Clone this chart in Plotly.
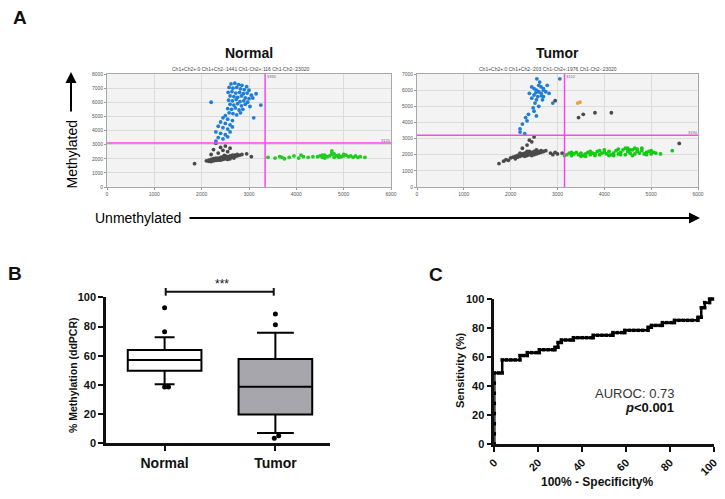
import plotly.graph_objects as go

# ---------------- Panel A data (droplet clusters) ----------------
normal_blue_x = [2620,2700,2780,2850,2950,2580,2660,2740,2820,2900,3000,
                 2560,2640,2720,2800,2880,2960,3050,
                 2600,2680,2760,2840,2920,3000,3080,
                 2570,2650,2730,2810,2890,2970,
                 2600,2680,2760,2840,2920,3020,
                 2550,2630,2710,2790,2870,
                 2580,2660,2740,2820,2500,
                 2450,2550,2650,2400,2500,2600,2350,2450,2550,2650,2300,2400,2500,2350,2450,2300,2550,2600,
                 3250,3150,2200,3100]
normal_blue_y = [7300,7350,7250,7200,7100,7050,7000,7050,6950,6900,6850,
                 6700,6750,6650,6700,6600,6650,6500,
                 6450,6400,6350,6450,6300,6250,6300,
                 6150,6100,6200,6050,6100,6000,
                 5850,5800,5900,5750,5850,5700,
                 5550,5500,5600,5450,5500,
                 5250,5200,5100,5250,5050,
                 4900,4800,4700,4600,4500,4400,4300,4200,4100,4250,3900,3800,3700,3500,3400,3250,3550,3900,
                 5800,6600,6000,4900]
normal_gray_x = [2100,2150,2200,2200,2250,2250,2300,2300,2350,2350,2400,2400,2400,2450,2450,2450,2500,2500,2500,2550,2550,2600,2600,2600,2650,2650,2700,2700,2750,2750,2800,2850,2550,2350,2150,2680,2300,2480,
                 2350,2450,2250,2550,2400,2600,1850,2950,3050,2200,2500,2300]
normal_gray_y = [1850,1900,1950,1800,2000,1850,1950,2050,1900,2050,2000,2100,1900,2050,1950,2150,2000,2100,2200,2050,2150,2100,2200,2000,2150,2250,2150,2250,2200,2300,2250,2300,1950,1980,1820,2050,1880,2230,
                 2400,2600,2650,2500,2800,2750,1650,2350,2150,2300,2900,3100]
normal_green_x = [4450,4500,4550,4600,4650,4700,4750,4800,4850,4900,4950,5000,5050,5100,5150,5200,5250,5350,4800,4600,4900,5000,4550,4750,5300,
                  3400,3550,3650,3750,3850,3950,4050,4150,4250,4350,3700,4100,5450,4750]
normal_green_y = [2150,2200,2100,2250,2150,2200,2300,2100,2200,2250,2150,2200,2250,2150,2200,2100,2200,2150,2350,2050,2100,2300,2250,2400,2100,
                  2100,2050,2150,2000,2100,2200,2050,2150,2100,2150,2100,2250,2100,2550]

tumor_blue_x = [2600,2550,2650,2500,2700,2600,2450,2550,2650,2750,2500,2580,2700,2620,2450,2520,2680,2560,2400,2780,2600,2480,2700,2540,2660,2820,
                2500,2380,2320,2250,2200,2300,2550,2350,2200,3050,2900]
tumor_blue_y = [5900,6000,5800,5700,6100,6300,5500,5400,6200,5900,6100,5600,5600,6500,6200,5200,5400,6700,5800,6300,5000,4900,6000,5850,5650,5800,
                4700,4500,4300,3900,3600,3300,4400,4100,3400,6700,5200]
tumor_gray_x = [2000,2050,2100,2100,2150,2200,2200,2250,2250,2300,2300,2300,2350,2350,2400,2400,2400,2450,2450,2450,2500,2500,2500,2550,2550,2600,2600,2650,2650,2700,2750,2200,2350,2150,2550,
                1750,1850,1900,1950,2850,2950,3000,3100,2900,2250,2350,2450,2500,2400,3550,3800,4150,3450,2950,5600]
tumor_gray_y = [1800,1850,1900,1750,1950,1900,2000,1950,2050,2000,2100,1900,2050,1950,2000,2100,2200,2050,2150,1950,2100,2200,2000,2150,2050,2100,2200,2150,2250,2200,2250,2100,2200,1850,2300,
                1450,1600,1700,1650,2100,2150,2050,2100,2000,2400,2600,2800,3100,2900,4500,4600,4600,4300,5350,2700]
tumor_green_x = [3200,3250,3300,3350,3400,3450,3500,3550,3600,3650,3700,3750,3800,3850,3900,3950,4000,4050,4100,4150,4200,4250,4300,4350,4400,4450,4500,4550,4600,4650,4700,4750,4800,4850,4900,4950,5000,5050,5100,5200,
                 3300,3500,3700,3900,4100,4300,4500,4700,4900,4450,4600,4200,3800,4000,4800,5000,3600,4350,4650,4550,5450,3150]
tumor_green_y = [2000,2100,1950,2050,2150,2000,2100,1950,2050,2150,2000,2100,2050,2200,2000,2100,2150,2050,2200,2000,2100,2250,2050,2150,2300,2000,2200,2100,2300,2050,2200,2100,2250,2050,2150,2200,2050,2150,2100,2050,
                 2150,1900,2200,2250,1950,2350,2400,2350,2000,2400,1950,1950,1950,2300,2400,2250,1900,2000,2400,2300,2250,1950]
tumor_orange_x = [3430, 3480]
tumor_orange_y = [5200, 5250]

normal_thresh_x, normal_thresh_y = 3340, 3120
tumor_thresh_x, tumor_thresh_y = 3150, 3200
normal_counts = "Ch1+Ch2+:0 Ch1+Ch2-:1441 Ch1-Ch2+:116 Ch1-Ch2-:23020"
tumor_counts = "Ch1+Ch2+:0 Ch1+Ch2-:203 Ch1-Ch2+:1976 Ch1-Ch2-:23020"

# ---------------- Panel B data (box summary) ----------------
groups = ["Normal", "Tumor"]
q1 = [49.7, 19.8]
median = [57.0, 38.8]
q3 = [63.9, 57.7]
low_whisker = [40.4, 7.0]
high_whisker = [72.6, 75.8]
normal_out_x = [0, 0, 0, 0.035]
normal_out_y = [92.9, 76.4, 38.5, 38.5]
tumor_out_x = [1, 1, 1.03, 0.99]
tumor_out_y = [88.6, 81.2, 5.2, 3.4]

# ---------------- Panel C data (ROC curve) ----------------
roc_fpr = [0,0,0,0,0,0,0,0, 2,3.6,3.6, 5.5,7.5,9.5,11.7,11.7, 13.3,15,15, 17,19,20.5,20.5, 22.5,24.5,26.5,27.6,27.6, 29,29, 30.5,30.5,
           32.5,34.5,36,36, 38,40,42,44,45,45, 47,49,51,53,54,54, 56,58,59.4,59.4, 61.5,63.5,65.5,67.5,70,70, 71.5,71.5,
           73.5,75.5,76.5,76.5, 78.5,80.5,82,82, 84,86,88,90,92.7,92.7, 94.2,94.2, 95.8,95.8, 98,98, 99.3]
roc_tpr = [0,7,14,21,28,35,42,49, 49,49,58, 58,58,58,58,61, 61,61,63, 63,63,63,65, 65,65,65,65,66.7, 66.7,70, 70,71.7,
           71.7,71.7,71.7,73.3, 73.3,73.3,73.3,73.3,73.3,75, 75,75,75,75,75,76.8, 76.8,76.8,76.8,78.4, 78.4,78.4,78.4,78.4,78.4,80.5, 80.5,81.8,
           81.8,81.8,81.8,83.7, 83.7,83.7,83.7,85.3, 85.3,85.3,85.3,85.3,85.3,87.4, 87.4,94, 94,97.5, 97.5,100, 100]

W, H = 725, 499
def px(x): return x / W
def py(y): return 1 - y / H

TXT = "#111111"
FONT = "Liberation Sans, Arial, sans-serif"

fig = go.Figure()

# Panel A traces
def add_cluster(xs, ys, color, ax, size=3.8):
    fig.add_trace(go.Scatter(x=xs, y=ys, mode="markers", xaxis="x" + ax, yaxis="y" + ax,
                             marker=dict(color=color, size=size, line=dict(width=0)),
                             hoverinfo="skip", showlegend=False))

add_cluster(normal_gray_x, normal_gray_y, "#4a4a4a", "")
add_cluster(normal_blue_x, normal_blue_y, "#1f7fd6", "")
add_cluster(normal_green_x, normal_green_y, "#22cc22", "")
add_cluster(tumor_gray_x, tumor_gray_y, "#4a4a4a", "2")
add_cluster(tumor_blue_x, tumor_blue_y, "#1f7fd6", "2")
add_cluster(tumor_green_x, tumor_green_y, "#11cc11", "2")
add_cluster(tumor_orange_x, tumor_orange_y, "#f0a040", "2")

# Panel B
fills = ["white", "#a7a6ad"]
wwidth = [0.27, 0.5]
for i, g in enumerate(groups):
    fig.add_trace(go.Box(x=[i], q1=[q1[i]], median=[median[i]], q3=[q3[i]],
                         lowerfence=[low_whisker[i]], upperfence=[high_whisker[i]],
                         width=0.665, whiskerwidth=wwidth[i], fillcolor=fills[i],
                         line=dict(color="black", width=2), boxpoints=False,
                         xaxis="x3", yaxis="y3", showlegend=False, hoverinfo="skip"))
fig.add_trace(go.Scatter(x=normal_out_x + tumor_out_x, y=normal_out_y + tumor_out_y, mode="markers",
                         marker=dict(color="black", size=5), xaxis="x3", yaxis="y3",
                         showlegend=False, cliponaxis=False, hoverinfo="skip"))

# Panel C
fig.add_trace(go.Scatter(x=roc_fpr, y=roc_tpr, mode="lines+markers",
                         line=dict(color="black", width=2.5),
                         marker=dict(symbol="square", size=3.5, color="black"),
                         xaxis="x4", yaxis="y4", showlegend=False, cliponaxis=False, hoverinfo="skip"))

small = dict(size=5, color="#555555", family=FONT)
a_common = dict(showline=True, mirror=True, linecolor="#a8a8a8", linewidth=1, automargin=False,
                showgrid=True, gridcolor="#dcdcdc", gridwidth=1, zeroline=False,
                tickfont=small, ticks="outside", ticklen=2, tickcolor="#999999")
bold11 = dict(size=11, color=TXT, family=FONT, weight="bold")
c_common = dict(showline=True, linecolor=TXT, linewidth=2.5, showgrid=False, zeroline=False, automargin=False,
                ticks="outside", ticklen=5, tickwidth=2, tickcolor=TXT, tickfont=bold11)

fig.update_layout(
    template="none",
    width=W, height=H, margin=dict(l=0, r=0, t=0, b=0, pad=0, autoexpand=False),
    paper_bgcolor="white", plot_bgcolor="white", showlegend=False,
    font=dict(family=FONT, color=TXT),
    xaxis=dict(domain=[px(107), px(391)], range=[0, 6000], tickvals=list(range(0, 6001, 1000)), anchor="y", **a_common),
    yaxis=dict(domain=[py(187), py(74)], range=[0, 8000], tickvals=list(range(0, 8001, 1000)), anchor="x", **a_common),
    xaxis2=dict(domain=[px(417), px(698)], range=[0, 6000], tickvals=list(range(0, 6001, 1000)), anchor="y2", **a_common),
    yaxis2=dict(domain=[py(187), py(74)], range=[0, 7000], tickvals=list(range(0, 7001, 1000)), anchor="x2", **a_common),
    xaxis3=dict(domain=[px(106), px(330)], range=[-0.529, 1.493], tickvals=[0, 1], ticktext=groups, anchor="y3",
                **{**c_common, "tickfont": dict(size=14, color=TXT, family=FONT, weight="bold")}),
    yaxis3=dict(domain=[py(443.3), py(297.3)], range=[0, 100], tickvals=list(range(0, 101, 20)), anchor="x3", **c_common),
    xaxis4=dict(domain=[px(494.3), px(714)], range=[0, 100], tickvals=list(range(0, 101, 20)), tickangle=-45, anchor="y4", **c_common),
    yaxis4=dict(domain=[py(444), py(299)], range=[0, 100], tickvals=list(range(0, 101, 20)), anchor="x4", **c_common),
)

shapes = []
for ax in ["", "2"]:
    shapes.append(dict(type="rect", xref="x" + ax + " domain", yref="y" + ax + " domain", x0=0, x1=1, y0=0, y1=1,
                       fillcolor="#f3f3f3", line=dict(width=0), layer="below"))
# magenta thresholds
shapes += [
    dict(type="line", xref="x", yref="y domain", x0=normal_thresh_x, x1=normal_thresh_x, y0=0, y1=1, line=dict(color="#ff44ee", width=1.5)),
    dict(type="line", xref="x domain", yref="y", x0=0, x1=1, y0=normal_thresh_y, y1=normal_thresh_y, line=dict(color="#ff44ee", width=1.5)),
    dict(type="line", xref="x2", yref="y2 domain", x0=tumor_thresh_x, x1=tumor_thresh_x, y0=0, y1=1, line=dict(color="#ff44ee", width=1.5)),
    dict(type="line", xref="x2 domain", yref="y2", x0=0, x1=1, y0=tumor_thresh_y, y1=tumor_thresh_y, line=dict(color="#ff44ee", width=1.5)),
]
# significance bracket
shapes += [
    dict(type="line", xref="x3", yref="paper", x0=0.01, x1=0.985, y0=py(291.7), y1=py(291.7), line=dict(color=TXT, width=2)),
    dict(type="line", xref="x3", yref="paper", x0=0.01, x1=0.01, y0=py(288), y1=py(295.7), line=dict(color=TXT, width=2)),
    dict(type="line", xref="x3", yref="paper", x0=0.985, x1=0.985, y0=py(288), y1=py(295.7), line=dict(color=TXT, width=2)),
]
fig.update_layout(shapes=shapes)

ann = []
def txt(x, y, text, size, bold=False, **kw):
    f = dict(size=size, color=kw.pop("color", TXT), family=FONT)
    if bold:
        f["weight"] = "bold"
    d = dict(x=px(x), y=py(y), xref="paper", yref="paper", text=text, showarrow=False, font=f,
             xanchor="center", yanchor="middle")
    d.update(kw)
    ann.append(d)

txt(20, 17, "A", 19, True)
txt(14.5, 273, "B", 19, True)
txt(435.5, 274, "C", 19, True)
txt(249, 53, "Normal", 14, True)
txt(557, 53, "Tumor", 14, True)
txt(240, 69, normal_counts, 5, color="#444444")
txt(548, 69, tumor_counts, 5, color="#444444")
txt(72, 154.5, "Methylated", 14, textangle=-90, color="black")
txt(137.5, 218, "Unmethylated", 14, color="black")
txt(73, 375, "% Methylation (ddPCR)", 10.5, True, textangle=-90)
txt(460, 370, "Sensitivity (%)", 11, True, textangle=-90)
txt(597, 482, "100% - Specificity%", 12, True)
txt(222, 284, "***", 12)
txt(676, 393, "AUROC: 0.73", 13, xanchor="right", color="#333333")
txt(676, 407, "<i>p</i>&lt;0.001", 13, True, xanchor="right")
txt(272, 76, "3335", 4, color="#666666")
txt(571, 76, "3152", 4, color="#666666")
txt(386, 140, "3120", 4, color="#666666")
txt(693, 132, "3190", 4, color="#666666")

# arrows
ann.append(dict(x=px(71), y=py(72), xref="paper", yref="paper", ax=0, ay=41, axref="pixel", ayref="pixel",
                showarrow=True, arrowhead=2, arrowsize=1.1, arrowwidth=2, arrowcolor="black", text=""))
ann.append(dict(x=px(700), y=py(218), xref="paper", yref="paper", ax=-512, ay=0, axref="pixel", ayref="pixel",
                showarrow=True, arrowhead=2, arrowsize=1.1, arrowwidth=2, arrowcolor="black", text=""))
fig.update_layout(annotations=ann)

fig.write_html("out.html", config={"displayModeBar": False},
               post_script="document.body.style.margin='0px';")
